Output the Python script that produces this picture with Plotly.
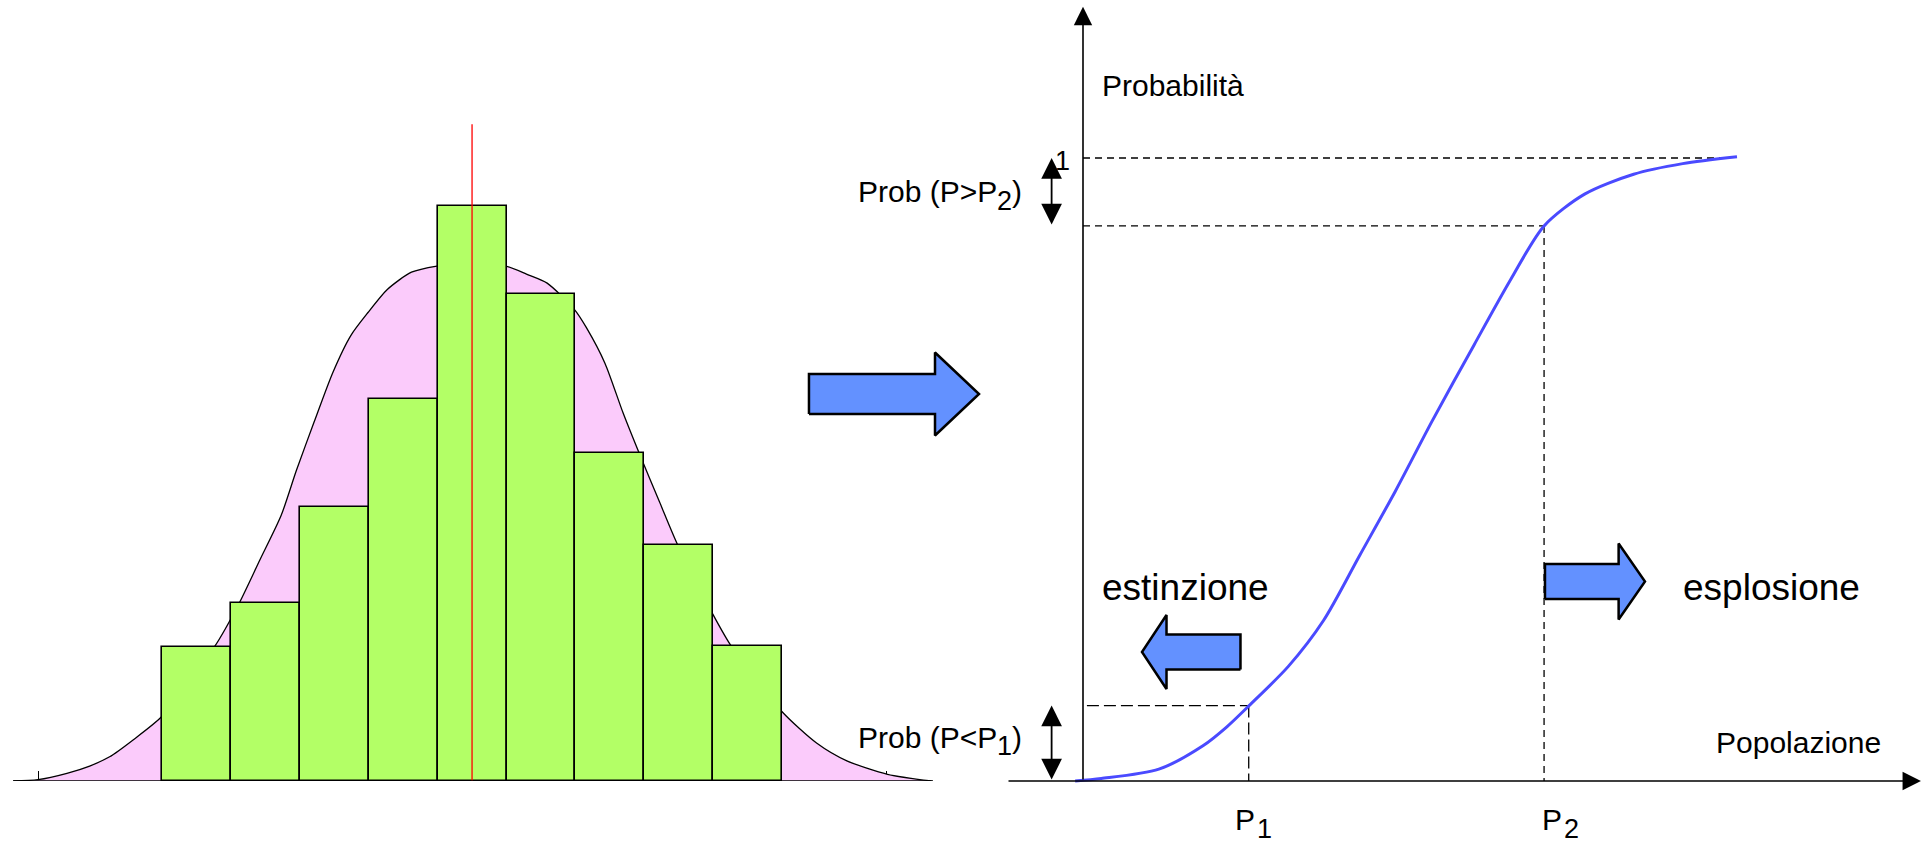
import plotly.graph_objects as go

# ---------------- data ----------------
# left panel: histogram (bin index) and fitted bell curve
bin_centers = [0.5, 1.5, 2.5, 3.5, 4.5, 5.5, 6.5, 7.5, 8.5]
bin_counts = [6.98, 9.26, 14.26, 19.89, 29.96, 25.38, 17.07, 12.30, 7.02]
mean_x = 4.5
mean_line_top = 34.2
bell_x = [-2.16, -1.80, -1.38, -1.05, -0.76, -0.42, 0.0, 0.76, 1.12, 1.42, 1.73, 1.95,
          2.21, 2.48, 2.74, 2.99, 3.27, 3.62, 3.99, 4.5, 4.99, 5.29, 5.59, 5.99, 6.16,
          6.43, 6.69, 6.95, 7.22, 7.48, 7.99, 8.27, 9.0, 9.50, 9.94, 10.53, 11.17]
bell_y = [0.0, 0.07, 0.40, 0.78, 1.26, 2.14, 3.37, 6.98, 9.26, 11.51, 13.84, 16.17,
          18.72, 21.28, 23.20, 24.40, 25.60, 26.50, 26.82, 27.0, 26.82, 26.40, 25.93, 24.54, 23.61,
          21.75, 19.19, 16.86, 14.54, 12.33, 8.72, 6.98, 3.61, 1.98, 1.05, 0.35, 0.0]
left_ticks = [-1.79, 0.276, 2.32, 4.37, 6.415, 8.476, 10.52]
left_base_extent = [-2.16, 11.19]

# right panel: cumulative probability vs population
pop = [-0.012, 0.028, 0.116, 0.184, 0.220, 0.254, 0.314, 0.368, 0.423, 0.478, 0.534,
       0.598, 0.654, 0.705, 0.767, 0.842, 0.917, 1.0]
prob = [0.0, 0.004, 0.019, 0.057, 0.087, 0.121, 0.184, 0.258, 0.362, 0.466, 0.578,
        0.700, 0.805, 0.891, 0.942, 0.974, 0.991, 1.002]
P1, P2 = 0.2534, 0.705
prob_P1, prob_P2 = 0.121, 0.891
prob_one = 1.0
one_line_end = 0.983
x_axis_extent = [-0.1162, 1.2813]
y_axis_top = 1.2428
dbl_arrow_x = -0.048

# block arrows: (tail, head base, tip, centre, body half height, head half height)
big_arrow = (-0.419, -0.2263, -0.159, 0.6212, 0.0321, 0.0666)
right_arrow = (0.7064, 0.819, 0.8593, 0.3202, 0.0281, 0.061)
left_arrow = (0.2408, 0.1277, 0.0902, 0.2071, 0.0281, 0.0594)

FONT = "Liberation Sans, Arial, sans-serif"
W, H = 1926, 846

fig = go.Figure()

# pink bell curve (base subplot)
fig.add_trace(go.Scatter(x=bell_x, y=bell_y, mode="lines", fill="tozeroy",
                         fillcolor="#FBCBFB",
                         line=dict(color="black", width=1.3, shape="spline", smoothing=0.7),
                         xaxis="x", yaxis="y", hoverinfo="skip"))
# bars on an overlay subplot so they sit above the curve
fig.add_trace(go.Bar(x=bin_centers, y=bin_counts, width=1.0,
                     marker=dict(color="#B3FF66", line=dict(color="black", width=1.6)),
                     xaxis="x3", yaxis="y3", hoverinfo="skip"))
fig.add_trace(go.Scatter(x=[mean_x, mean_x], y=[0, mean_line_top], mode="lines",
                         line=dict(color="#FF0000", width=1.3), xaxis="x3", yaxis="y3",
                         hoverinfo="skip"))

# right panel curve
fig.add_trace(go.Scatter(x=pop, y=prob, mode="lines",
                         line=dict(color="#4A4AFF", width=3, shape="spline", smoothing=0.8),
                         xaxis="x2", yaxis="y2", hoverinfo="skip"))


def block_arrow(spec):
    tail, base, tip, yc, bh, hh = spec
    xs = [tail, base, base, tip, base, base, tail, tail]
    ys = [yc - bh, yc - bh, yc - hh, yc, yc + hh, yc + bh, yc + bh, yc - bh]
    return xs, ys


for spec in (big_arrow, right_arrow, left_arrow):
    ax_, ay_ = block_arrow(spec)
    fig.add_trace(go.Scatter(x=ax_, y=ay_, mode="lines", fill="toself", fillcolor="#6391FF",
                             line=dict(color="black", width=2.5), xaxis="x2", yaxis="y2",
                             hoverinfo="skip"))

shapes = []
# left baseline
shapes.append(dict(type="line", xref="x", yref="y", x0=left_base_extent[0], x1=left_base_extent[1],
                   y0=0, y1=0, line=dict(color="black", width=1.5)))
# dashed guides
short_dash = "7px,5px"
long_dash = "12px,5px"
shapes += [
    dict(type="line", xref="x2", yref="y2", x0=0, x1=one_line_end, y0=prob_one, y1=prob_one,
         line=dict(color="black", width=1.3, dash=short_dash), layer="below"),
    dict(type="line", xref="x2", yref="y2", x0=0, x1=P2, y0=prob_P2, y1=prob_P2,
         line=dict(color="black", width=1.3, dash=short_dash), layer="below"),
    dict(type="line", xref="x2", yref="y2", x0=P2, x1=P2, y0=prob_P2, y1=0,
         line=dict(color="black", width=1.3, dash=short_dash), layer="below"),
    dict(type="line", xref="x2", yref="y2", x0=0.006, x1=P1, y0=prob_P1, y1=prob_P1,
         line=dict(color="black", width=1.3, dash=long_dash), layer="below"),
    dict(type="line", xref="x2", yref="y2", x0=P1, x1=P1, y0=prob_P1, y1=0,
         line=dict(color="black", width=1.3, dash=long_dash), layer="below"),
]

ann = []
# axis arrows
ann.append(dict(x=x_axis_extent[1], y=0, ax=x_axis_extent[0], ay=0, xref="x2", yref="y2",
                axref="x2", ayref="y2", text="", showarrow=True, arrowhead=2,
                arrowsize=2.3, arrowwidth=1.6, arrowcolor="black"))
ann.append(dict(x=0, y=y_axis_top, ax=0, ay=0, xref="x2", yref="y2",
                axref="x2", ayref="y2", text="", showarrow=True, arrowhead=2,
                arrowsize=2.3, arrowwidth=1.6, arrowcolor="black"))
# double arrows
for (a, b) in ((prob_one, prob_P2), (prob_P1, 0.0)):
    ann.append(dict(x=dbl_arrow_x, y=a, ax=dbl_arrow_x, ay=b, xref="x2", yref="y2",
                    axref="x2", ayref="y2", text="", showarrow=True, arrowhead=2,
                    startarrowhead=2, arrowside="end+start", arrowsize=2.3, startarrowsize=2.3,
                    arrowwidth=1.8, arrowcolor="black"))

txt_font = dict(family=FONT, size=30, color="black")
sub_font = dict(family=FONT, size=27, color="black")
big_font = dict(family=FONT, size=37, color="black")
SUB_W = 15    # advance of a 27px digit
PAREN_W = 10  # advance of a 30px ")"
SUB_DROP = -9


def label(text, x, y, xanchor, font, xshift=0, yshift=0):
    ann.append(dict(x=x, y=y, xref="x2", yref="y2", text=text, showarrow=False,
                    xanchor=xanchor, yanchor="middle", font=font, borderpad=0,
                    xshift=xshift, yshift=yshift))


def prob_label(head, digit, x, y):
    # "Prob (P>P" + subscript digit + ")" right-aligned at x
    label(")", x, y, "right", txt_font)
    label(digit, x, y, "right", sub_font, xshift=-PAREN_W, yshift=SUB_DROP)
    label(head, x, y, "right", txt_font, xshift=-PAREN_W - SUB_W)


def p_label(digit, x, y):
    label("P", x, y, "right", txt_font)
    label(digit, x, y, "left", sub_font, yshift=SUB_DROP)


label("Probabilità", 0.027, 1.116, "left", txt_font)
label("1", -0.0306, 0.995, "center", dict(family=FONT, size=27, color="black"))
prob_label("Prob (P>P", "2", -0.0915, 0.946)
prob_label("Prob (P<P", "1", -0.0915, 0.0704)
label("Popolazione", 0.966, 0.0626, "left", txt_font)
label("estinzione", 0.027, 0.3114, "left", big_font)
label("esplosione", 0.916, 0.3114, "left", big_font)
p_label("1", 0.2638, -0.0625)
p_label("2", 0.7332, -0.0625)

hidden = dict(visible=False, showgrid=False, zeroline=False)
fig.update_layout(
    width=W, height=H, margin=dict(l=0, r=0, t=0, b=0),
    paper_bgcolor="white", plot_bgcolor="rgba(0,0,0,0)", showlegend=False,
    barmode="overlay", bargap=0,
    xaxis=dict(domain=[0, 0.5], range=[-2.3512, 11.6255], showgrid=False, zeroline=False,
               showline=False, ticks="inside", ticklen=10, tickwidth=1, tickcolor="black",
               tickvals=left_ticks, showticklabels=False, layer="below traces", anchor="y"),
    yaxis=dict(domain=[65 / 846, 1], range=[0, 40.677], **hidden),
    xaxis3=dict(overlaying="x", range=[-2.3512, 11.6255], **hidden),
    yaxis3=dict(overlaying="y", range=[0, 40.677], **hidden),
    xaxis2=dict(domain=[780 / 1926, 1], range=[-0.4633, 1.2890], anchor="y2", **hidden),
    yaxis2=dict(domain=[0, 1], range=[-0.10433, 1.25361], anchor="x2", **hidden),
    shapes=shapes, annotations=ann,
)

fig.write_html("out.html", config={"displayModeBar": False},
               post_script="document.body.style.margin='0';")
